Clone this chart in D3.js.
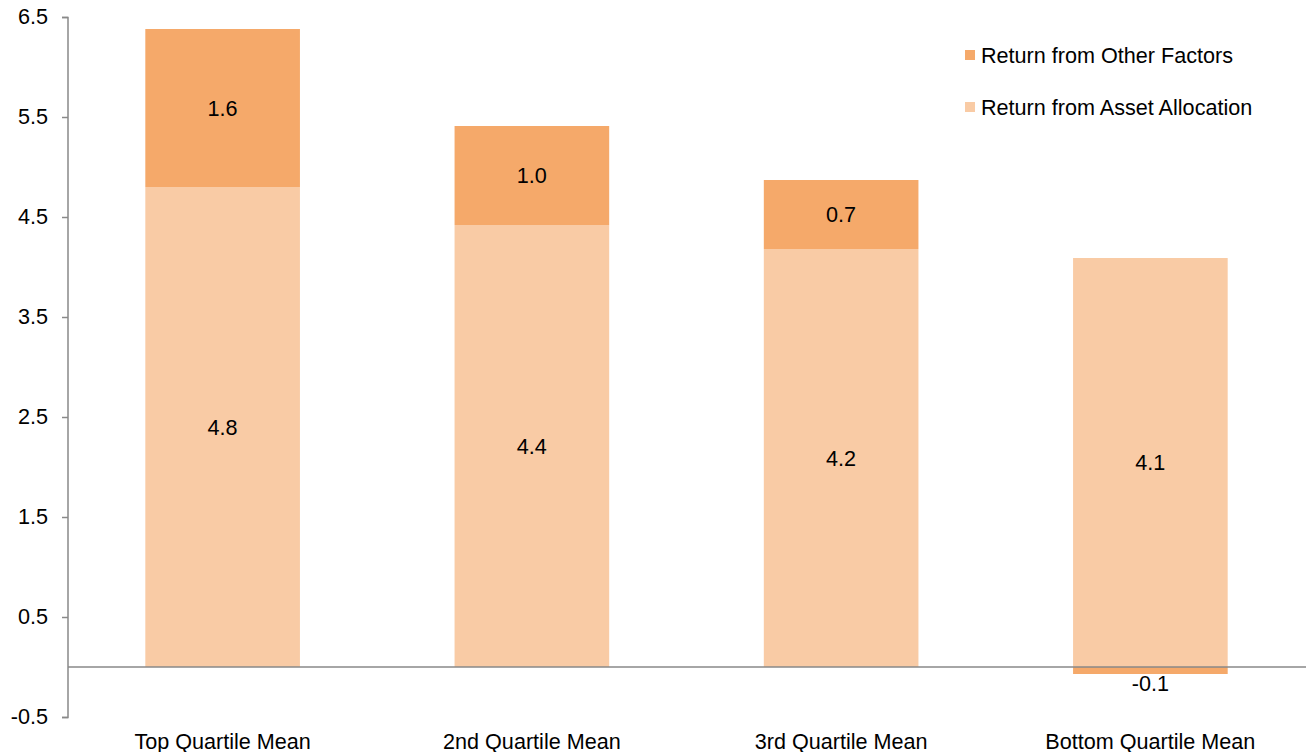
<!DOCTYPE html>
<html><head><meta charset="utf-8">
<script src="https://cdn.jsdelivr.net/npm/d3@7"></script>
<style>body{margin:0;background:#fff}svg{display:block;font-family:"Liberation Sans",Arial,sans-serif}</style>
</head><body><svg id="c" width="1306" height="752"></svg>
<script>
const categories = ["Top Quartile Mean","2nd Quartile Mean","3rd Quartile Mean","Bottom Quartile Mean"];
const assetAllocation = [4.80, 4.42, 4.18, 4.09];
const otherFactors = [1.58, 0.99, 0.69, -0.07];
const seriesNames = ["Return from Other Factors","Return from Asset Allocation"];
const yTicks = [-0.5, 0.5, 1.5, 2.5, 3.5, 4.5, 5.5, 6.5];

const colOther = "#F5A96A", colAA = "#F9CBA5", axisCol = "#898989";
const FS = 21.6;
const fmt = v => d3.format(".1f")(v).replace("\u2212","-");
const svg = d3.select("#c");
const x = d3.scaleBand().domain(categories).range([68, 1305]).paddingInner(0.5).paddingOuter(0.25);
const y = d3.scaleLinear().domain([-0.5, 6.5]).range([717, 17]);

// bars
const segs = [];
categories.forEach((c,i)=>{
  segs.push({c, y0:0, y1:assetAllocation[i], v:assetAllocation[i], col:colAA});
  const o = otherFactors[i];
  if (o >= 0) segs.push({c, y0:assetAllocation[i], y1:assetAllocation[i]+o, v:o, col:colOther});
  else segs.push({c, y0:o, y1:0, v:o, col:colOther});
});
svg.append("g").selectAll("rect").data(segs).join("rect")
  .attr("x", d=>x(d.c)).attr("width", x.bandwidth())
  .attr("y", d=>y(d.y1)).attr("height", d=>y(d.y0)-y(d.y1))
  .attr("fill", d=>d.col);

// y axis
const ya = svg.append("g").attr("transform","translate(68,0)")
  .call(d3.axisLeft(y).tickValues(yTicks).tickFormat(fmt).tickSize(6).tickPadding(14));
ya.select(".domain").attr("stroke", axisCol).attr("stroke-width",1.5).attr("d","M-6,17.5H0V717.5H-6");
ya.selectAll(".tick line").attr("stroke", axisCol).attr("stroke-width",1.5);
ya.selectAll(".tick text").attr("font-size",FS).attr("fill","#000").attr("font-family","Liberation Sans, Arial, sans-serif");

// zero line
svg.append("line").attr("x1",68).attr("x2",1306).attr("y1",y(0)).attr("y2",y(0))
  .attr("stroke",axisCol).attr("stroke-width",1.5);

// value labels
svg.append("g").selectAll("text").data(segs).join("text")
  .attr("x", d=>x(d.c)+x.bandwidth()/2)
  .attr("y", d=> d.v<0 ? y(d.y0)+9 : (y(d.y0)+y(d.y1))/2)
  .attr("dy","0.35em").attr("text-anchor","middle").attr("font-size",FS).attr("fill","#000")
  .text(d=>fmt(d.v));

// category labels
svg.append("g").selectAll("text").data(categories).join("text")
  .attr("x", d=>x(d)+x.bandwidth()/2).attr("y", 749)
  .attr("text-anchor","middle").attr("font-size",FS).attr("fill","#000").text(d=>d);

// legend
const lg = svg.append("g");
[colOther, colAA].forEach((col,i)=>{
  const yy = 55 + i*52;
  lg.append("rect").attr("x",965).attr("y",yy-5).attr("width",10).attr("height",10).attr("fill",col);
  lg.append("text").attr("x",981).attr("y",yy).attr("dy","0.35em").attr("font-size",FS).attr("fill","#000").text(seriesNames[i]);
});
</script></body></html>
